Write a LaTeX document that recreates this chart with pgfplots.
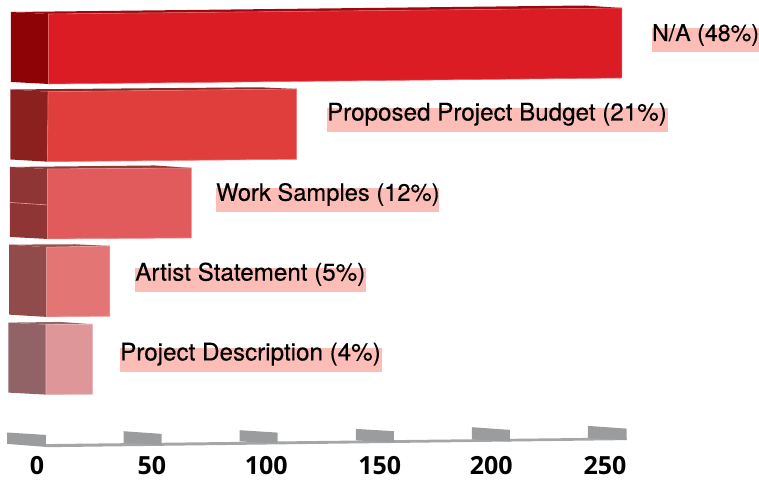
\documentclass[border=0pt]{standalone}
\usepackage{pgfplots}
\pgfplotsset{compat=1.18}
\usepackage{fontspec}
\setmainfont[FakeBold=0.25]{TeX Gyre Heros}
\newfontfamily\tickfont{Open Sans}
\definecolor{hl}{HTML}{FBBDB5}
\definecolor{axg}{HTML}{A5A6A7}
\definecolor{blk}{HTML}{9B9C9D}
\definecolor{fa}{HTML}{DC1C24}\definecolor{sa}{HTML}{8E0306}\definecolor{ta}{HTML}{9A0A10}
\definecolor{fb}{HTML}{E03E3D}\definecolor{sb}{HTML}{8C201E}\definecolor{tb}{HTML}{8F2624}
\definecolor{fc}{HTML}{E25B5C}\definecolor{sc}{HTML}{903536}\definecolor{tc}{HTML}{94393A}
\definecolor{fd}{HTML}{E37574}\definecolor{sd}{HTML}{914B4A}\definecolor{td}{HTML}{975151}
\definecolor{fe}{HTML}{DF9698}\definecolor{se}{HTML}{926366}\definecolor{te}{HTML}{966669}
\newcommand{\lab}[4]{\node[anchor=base west,inner sep=0pt,text=black,font=\fontsize{#4}{26}\selectfont] at (axis cs:#1,#2) {#3};}
\begin{document}
\begin{tikzpicture}
\begin{axis}[
  at={(0pt,0pt)},anchor=south west,
  scale only axis,width=759pt,height=481pt,
  xmin=-19.83,xmax=307.33,ymin=0,ymax=481,y dir=reverse,
  axis line style={draw=none},tick style={draw=none},major tick length=0pt,
  ytick=\empty,
  xtick={-3.9,45.7,95,143.9,192,241},
  xticklabels={0,50,100,150,200,250},
  xticklabel pos=left,
  xticklabel style={anchor=center,inner sep=0pt,yshift=15.5pt,font=\tickfont\bfseries\fontsize{25}{26}\selectfont,text=black},
  clip=false,
]
% bar 1: N/A
\addplot[fill=ta,draw=none] coordinates {(-15.09,12) (1.1,14) (248.3,8) (232.3,5.5)} -- cycle;
\addplot[fill=sa,draw=none] coordinates {(-15.09,12) (1.1,14) (1.1,84) (-15.09,82)} -- cycle;
\addplot[fill=fa,draw=fa!70!white,line width=0.6pt] coordinates {(1.1,14) (248.3,8) (248.3,78) (1.1,84)} -- cycle;
% bar 2: Proposed Project Budget
\addplot[fill=tb,draw=none] coordinates {(-15.4,89.5) (0.9,91.7) (108.0,89) (92.2,87.3)} -- cycle;
\addplot[fill=sb,draw=none] coordinates {(-15.4,89.5) (0.9,91.7) (0.6,161.7) (-15.4,159.5)} -- cycle;
\addplot[fill=fb,draw=fb!70!white,line width=0.6pt] coordinates {(0.9,91.7) (108.0,89) (108.0,159.3) (0.6,161.7)} -- cycle;
% bar 3: Work Samples
\addplot[fill=tc,draw=none] coordinates {(-15.6,167) (0.6,169) (62.7,168) (47.0,165.5)} -- cycle;
\addplot[fill=sc,draw=none] coordinates {(-15.6,167) (0.6,169) (0.6,239) (-15.6,237)} -- cycle;
\addplot[draw=fc!60!white,line width=0.6pt] coordinates {(-15.6,202.5) (0.6,205)};
\addplot[fill=fc,draw=fc!70!white,line width=0.6pt] coordinates {(0.6,169) (62.7,168) (62.7,238) (0.6,239)} -- cycle;
% bar 4: Artist Statement
\addplot[fill=td,draw=none] coordinates {(-15.9,244.7) (0.3,247.3) (27.5,246) (12.5,244.3)} -- cycle;
\addplot[fill=sd,draw=none] coordinates {(-15.9,244.7) (0.3,247.3) (0.3,317) (-15.9,314.7)} -- cycle;
\addplot[fill=fd,draw=fd!70!white,line width=0.6pt] coordinates {(0.3,247.3) (27.5,246) (27.5,316.3) (0.3,317)} -- cycle;
% bar 5: Project Description
\addplot[fill=te,draw=none] coordinates {(-16.25,322.7) (0,324.7) (20.1,324.3) (6.0,322)} -- cycle;
\addplot[fill=se,draw=none] coordinates {(-16.25,322.7) (0,324.7) (0,394.7) (-16.25,392.7)} -- cycle;
\addplot[fill=fe,draw=fe!70!white,line width=0.6pt] coordinates {(0,324.7) (20.1,324.3) (20.1,394.3) (0,394.7)} -- cycle;
% axis base line
\addplot[fill=axg,draw=none] coordinates {(-0.1,444.2) (250.3,437.6) (250.3,440.2) (-0.1,447.3)} -- cycle;
% axis blocks
\addplot[fill=blk,draw=none] coordinates {(-16.8,432.6) (-0.1,435) (-0.1,447) (-16.8,444)} -- cycle;
\addplot[fill=blk,draw=none] coordinates {(33.5,431.3) (49.9,434) (49.9,445) (33.5,443)} -- cycle;
\addplot[fill=blk,draw=none] coordinates {(83.5,430.3) (99.9,432.7) (99.9,443.5) (83.5,441.5)} -- cycle;
\addplot[fill=blk,draw=none] coordinates {(133.6,429) (150,431.3) (150,442.5) (133.6,440.5)} -- cycle;
\addplot[fill=blk,draw=none] coordinates {(183.6,427.3) (200,430) (200,441.7) (183.6,439.3)} -- cycle;
\addplot[fill=blk,draw=none] coordinates {(233.6,426) (250.3,428.7) (250.3,440.2) (233.6,438)} -- cycle;
% highlights
\addplot[fill=hl,draw=none] coordinates {(261.2,28) (307.33,28) (307.33,52) (261.2,52)} -- cycle;
\addplot[fill=hl,draw=none] coordinates {(121.1,107.7) (268.1,107.7) (268.1,131.7) (121.1,131.7)} -- cycle;
\addplot[fill=hl,draw=none] coordinates {(73.3,188) (169.4,188) (169.4,211.7) (73.3,211.7)} -- cycle;
\addplot[fill=hl,draw=none] coordinates {(38.4,267.7) (137.8,267.7) (137.8,291.7) (38.4,291.7)} -- cycle;
\addplot[fill=hl,draw=none] coordinates {(31.9,347.7) (144.7,347.7) (144.7,371.7) (31.9,371.7)} -- cycle;
\lab{261.2}{41}{N/A (48\%)}{23.2}
\lab{121.1}{120.5}{Proposed Project Budget (21\%)}{24.2}
\lab{73.3}{200.8}{Work Samples (12\%)}{23.7}
\lab{38.4}{280.7}{Artist Statement (5\%)}{24.2}
\lab{31.9}{360.5}{Project Description (4\%)}{24.2}
\end{axis}
\end{tikzpicture}
\end{document}
